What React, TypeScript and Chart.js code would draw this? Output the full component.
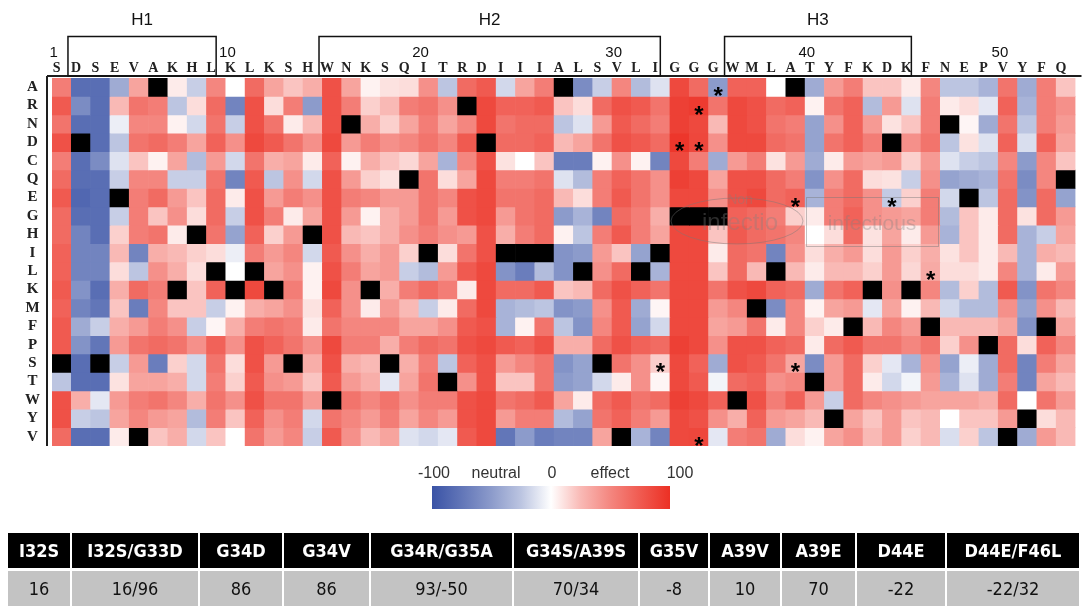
import React, { useEffect, useRef } from 'react';
import { Chart, registerables } from 'chart.js';

Chart.register(...registerables);

// ---------------- data ----------------
const sequence = ['S','D','S','E','V','A','K','H','L','K','L','K','S','H','W','N','K','S','Q','I','T','R','D','I','I','I','A','L','S','V','L','I','G','G','G','W','M','L','A','T','Y','F','K','D','K','F','N','E','P','V','Y','F','Q'];
const substitutions = ['A','R','N','D','C','Q','E','G','H','I','L','K','M','F','P','S','T','W','Y','V'];
const positionTicks = [1, 10, 20, 30, 40, 50];
const helixLabels = ['H1', 'H2', 'H3'];
const helixStart = [2, 15, 36];
const helixEnd = [9, 32, 45];

// effect per substitution (rows) at each sequence position (columns); null = wild type
const rowA = [55,-80,-80,-40,35,null,5,-20,50,0,65,35,20,30,80,35,3,8,10,45,-25,65,75,-15,35,55,null,-60,-20,50,-30,-10,85,65,-50,70,70,0,null,-40,40,55,20,20,5,50,-25,-25,-35,60,-40,55,20];
const rowR = [75,-60,-80,25,60,55,-25,10,65,-65,80,10,55,-50,80,55,15,25,55,60,45,null,85,70,70,75,20,10,65,80,75,60,90,93,60,85,80,65,70,3,60,70,-30,40,-10,55,5,10,-8,70,-35,55,45];
const rowN = [60,-80,-80,-5,50,50,3,-15,60,-20,80,60,5,25,80,null,30,15,35,55,35,50,85,60,65,65,-25,-10,40,75,65,55,90,85,25,85,80,60,55,-45,45,70,40,8,20,55,null,2,-40,60,-25,55,40];
const rowD = [80,null,-80,-25,60,65,55,35,70,45,85,75,60,45,85,40,55,45,50,60,50,75,null,65,65,70,25,35,60,80,75,65,96,86,45,85,85,65,60,-45,60,70,55,null,45,60,-25,8,-10,70,-12,70,35];
const rowC = [55,-80,-60,-10,20,3,35,-30,40,-15,60,30,35,5,70,3,30,20,12,35,-35,50,80,8,0,20,-70,-70,3,45,3,-65,85,55,-40,40,55,8,40,-40,5,40,35,40,15,40,-10,-20,-25,50,-50,50,20];
const rowQ = [65,-80,-80,-20,50,50,-20,-20,60,-65,75,-25,45,-15,80,40,15,8,null,60,10,35,85,55,55,60,-10,-30,55,70,60,45,90,85,35,80,80,65,55,-55,45,65,10,8,-20,45,-45,-40,-35,60,-60,50,null];
const rowE = [75,-85,-80,null,55,65,40,20,65,5,80,40,55,45,80,55,50,40,40,60,50,80,85,60,60,65,25,10,55,75,60,45,85,85,45,80,85,65,70,-35,55,65,45,-22,15,55,-15,null,-25,65,-55,65,-45];
const rowG = [65,-80,-80,-20,55,20,45,10,65,-20,80,55,5,35,80,40,3,30,40,60,40,80,85,40,60,65,-50,-35,-65,65,55,30,null,null,null,70,65,55,15,5,55,70,45,40,35,55,-30,20,5,65,8,65,40];
const rowH = [65,-65,-80,15,55,60,5,null,60,-45,70,15,40,null,80,25,20,30,45,55,45,40,80,30,55,65,3,-25,55,75,55,35,85,85,20,75,65,60,50,0,10,65,8,35,5,40,-35,20,5,65,-35,-20,35];
const rowI = [70,-65,-65,25,-65,30,25,15,10,-5,55,40,50,-15,75,45,30,40,15,null,10,60,80,null,null,null,-55,-50,40,20,-45,null,85,85,5,65,60,-65,45,10,30,40,10,40,15,30,8,20,5,25,-35,30,25];
const rowL = [70,-65,-65,10,-25,45,30,10,null,0,null,35,45,3,80,55,35,40,-20,-30,40,75,85,-55,-70,-30,-55,null,45,65,null,-35,85,85,20,65,25,null,25,5,25,25,15,40,12,32,10,10,5,50,-35,5,40];
const rowK = [75,-55,-80,30,65,55,null,20,70,null,85,null,55,3,85,45,null,30,55,65,55,5,85,65,65,75,20,25,65,80,70,60,85,85,60,80,85,70,65,-40,60,70,null,45,null,50,-30,15,-30,75,-55,60,50];
const rowM = [70,-65,-75,20,-70,50,20,20,-20,3,30,35,45,8,70,45,5,40,25,-20,5,65,85,-35,-30,-25,-55,-50,45,75,-40,2,85,85,40,50,null,-60,50,3,35,40,-8,35,3,25,-15,-30,-30,45,-45,45,25];
const rowF = [75,-40,-20,30,40,55,45,-20,2,30,55,60,55,5,60,50,50,50,35,35,45,75,80,-35,3,60,-25,-55,50,75,-45,-15,85,85,35,40,60,5,50,15,5,null,25,50,40,null,25,25,25,35,-55,null,35];
const rowP = [75,-55,-75,40,60,65,60,45,70,45,80,70,60,45,85,55,55,30,55,65,60,80,85,75,70,80,30,30,65,80,70,65,90,85,45,80,80,70,65,5,65,75,60,60,50,60,15,45,null,65,10,70,50];
const rowS = [null,-80,null,-20,40,-70,15,-15,60,10,80,40,null,30,80,30,25,null,30,55,-25,70,80,40,50,60,-55,-45,null,60,45,16,85,70,-40,80,75,60,34,-60,40,65,15,-8,-35,45,-45,-5,-40,65,-65,55,35];
const rowT = [-25,-80,-80,8,35,35,30,-15,55,15,75,45,40,20,75,40,30,-8,35,60,null,45,80,20,20,60,-50,-45,-15,5,45,2,85,75,-3,65,70,45,50,null,40,65,5,-15,-3,40,-35,-10,-40,55,-65,35,25];
const rowW = [80,30,-8,40,55,60,50,30,60,45,80,60,60,40,null,60,50,60,45,55,55,80,85,60,65,75,35,5,65,75,60,65,90,85,70,null,80,55,70,40,-20,65,50,45,40,35,35,35,30,65,0,60,40];
const rowY = [80,-20,-25,35,50,40,35,-30,55,20,70,45,55,-15,60,50,40,55,35,50,40,80,85,40,55,55,-30,-45,60,70,55,40,85,80,45,30,70,40,35,25,null,35,20,40,20,25,0,20,20,40,null,10,25];
const rowV = [65,-80,-80,5,null,20,30,-15,20,0,60,40,50,-20,75,45,25,35,-10,-15,-8,75,85,-75,-50,-70,-65,-65,35,null,-35,-65,85,86,-8,55,60,-40,10,3,35,45,25,40,15,25,-12,15,-25,null,-40,40,25];

const effects: Record<string, (number | null)[]> = {
  A: rowA, R: rowR, N: rowN, D: rowD, C: rowC, Q: rowQ, E: rowE, G: rowG, H: rowH, I: rowI,
  L: rowL, K: rowK, M: rowM, F: rowF, P: rowP, S: rowS, T: rowT, W: rowW, Y: rowY, V: rowV,
};

// tested mutants marked with an asterisk: [substitution, position]
const starredAA = ['A', 'R', 'D', 'D', 'E', 'E', 'L', 'S', 'S', 'V'];
const starredPos = [35, 34, 33, 34, 39, 44, 46, 32, 39, 34];

const colorbarLabels = ['-100', 'neutral', '0', 'effect', '100'];
const colorbarStops = [-100, -75, -50, -25, 0, 25, 50, 75, 100];

const mutantNames = ['I32S', 'I32S/G33D', 'G34D', 'G34V', 'G34R/G35A', 'G34S/A39S', 'G35V', 'A39V', 'A39E', 'D44E', 'D44E/F46L'];
const mutantScores = ['16', '16/96', '86', '86', '93/-50', '70/34', '-8', '10', '70', '-22', '-22/32'];

// ---------------- styling helpers ----------------
const NEG = [58, 83, 166];
const POS = [236, 48, 36];
function effectColor(v: number | null): string {
  if (v === null) return '#000000';
  const t = Math.pow(Math.min(1, Math.abs(v) / 100), 0.78);
  const e = v < 0 ? NEG : POS;
  const c = e.map((x) => Math.round(255 + (x - 255) * t));
  return `rgb(${c[0]},${c[1]},${c[2]})`;
}

const colWidths = [63, 128, 84, 87, 143, 126, 70, 72, 75, 90, 134];

const overlayPlugin = {
  id: 'overlay',
  afterDatasetsDraw(chart: any) {
    const { ctx, chartArea: a, scales } = chart;
    const x = scales.x;
    const y = scales.y;
    ctx.save();

    // axis frame lines
    ctx.strokeStyle = '#1e1e1e';
    ctx.lineWidth = 2;
    ctx.beginPath();
    ctx.moveTo(a.left - 5, a.top - 2);
    ctx.lineTo(a.left - 5, a.bottom);
    ctx.stroke();
    ctx.beginPath();
    ctx.moveTo(a.left - 5, a.top - 2);
    ctx.lineTo(a.right + 6, a.top - 2);
    ctx.stroke();

    // helix boxes + labels
    ctx.lineWidth = 1.5;
    ctx.strokeStyle = '#111';
    ctx.fillStyle = '#111';
    ctx.font = '17px "Liberation Sans", Arial, sans-serif';
    ctx.textAlign = 'center';
    ctx.textBaseline = 'middle';
    helixLabels.forEach((lab, i) => {
      const l = x.getPixelForValue(helixStart[i] - 1) - 13;
      const r = x.getPixelForValue(helixEnd[i] - 1);
      ctx.strokeRect(l, 36.5, r - l, a.top - 2 - 36.5);
      ctx.fillText(lab, (l + r) / 2, 20);
    });

    // residue numbers
    ctx.font = '15px "Liberation Sans", Arial, sans-serif';
    positionTicks.forEach((p) => {
      ctx.fillText(String(p), x.getPixelForValue(p - 1) - 8, 53);
    });

    // asterisks
    ctx.font = 'bold 24px "Liberation Sans", Arial, sans-serif';
    ctx.textBaseline = 'alphabetic';
    ctx.fillStyle = '#000';
    starredAA.forEach((aa, i) => {
      const cx = x.getPixelForValue(starredPos[i] - 1);
      const cy = y.getPixelForValue(substitutions.indexOf(aa) + 0.5);
      ctx.fillText('*', cx, cy + 17);
    });

    // faint annotation overlay (as in the scanned figure)
    ctx.strokeStyle = 'rgba(120,120,120,0.45)';
    ctx.lineWidth = 1;
    ctx.beginPath();
    ctx.ellipse(737, 221, 66, 23, 0, 0, Math.PI * 2);
    ctx.stroke();
    ctx.strokeRect(806.5, 197.5, 132, 49);
    ctx.fillStyle = 'rgba(130,130,130,0.35)';
    ctx.textBaseline = 'middle';
    ctx.font = '14px "Liberation Sans", Arial, sans-serif';
    ctx.fillText('Non', 740, 200);
    ctx.font = '24px "Liberation Sans", Arial, sans-serif';
    ctx.fillText('infectio', 740, 223);
    ctx.font = '21px "Liberation Sans", Arial, sans-serif';
    ctx.fillText('infectious', 872, 224);

    // colour bar legend
    const bx = 432, bw = 238, by = 486, bh = 23;
    const g = ctx.createLinearGradient(bx, 0, bx + bw, 0);
    colorbarStops.forEach((s) => g.addColorStop((s + 100) / 200, effectColor(s)));
    ctx.fillStyle = g;
    ctx.fillRect(bx, by, bw, bh);
    ctx.fillStyle = '#333';
    ctx.font = '16px "Liberation Sans", Arial, sans-serif';
    ctx.textBaseline = 'middle';
    const labelX = [434, 496, 552, 610, 680];
    colorbarLabels.forEach((t, i) => ctx.fillText(t, labelX[i], 474));

    ctx.restore();
  },
};

export default function App() {
  const ref = useRef<HTMLCanvasElement | null>(null);

  useEffect(() => {
    if (!ref.current) return;
    const chart = new Chart(ref.current, {
      type: 'bar',
      data: {
        labels: sequence,
        datasets: substitutions.map((aa, r) => ({
          label: aa,
          data: sequence.map(() => [r, r + 1]) as any,
          backgroundColor: sequence.map((wt, j) => (wt === aa ? '#000000' : effectColor(effects[aa][j]))),
          borderWidth: 0,
          grouped: false,
          barPercentage: 1,
          categoryPercentage: 1,
        })) as any,
      },
      options: {
        animation: false,
        responsive: false,
        devicePixelRatio: 1,
        layout: { padding: { left: 0, right: 12.5, top: 0, bottom: 161 } },
        plugins: { legend: { display: false }, tooltip: { enabled: false } },
        scales: {
          x: {
            type: 'category',
            position: 'top',
            offset: true,
            grid: { display: false, drawTicks: false },
            border: { display: false },
            ticks: {
              autoSkip: false,
              maxRotation: 0,
              padding: 1,
              labelOffset: -5,
              color: '#222',
              font: { family: '"Liberation Serif", "Times New Roman", serif', size: 14, weight: 'bold' },
            },
            afterFit: (s: any) => { s.height = 78; },
          },
          y: {
            type: 'linear',
            min: 0,
            max: substitutions.length,
            reverse: true,
            grid: { display: false, drawTicks: false },
            border: { display: false },
            afterBuildTicks: (s: any) => { s.ticks = substitutions.map((_, i) => ({ value: i + 0.5 })); },
            ticks: {
              autoSkip: false,
              padding: 12,
              crossAlign: 'center',
              color: '#222',
              font: { family: '"Liberation Serif", "Times New Roman", serif', size: 15, weight: 'bold' },
              callback: (v: any) => substitutions[Math.floor(Number(v))],
            },
            afterFit: (s: any) => { s.width = 52; },
          },
        },
      } as any,
      plugins: [overlayPlugin],
    });
    return () => chart.destroy();
  }, []);

  const cellFont = '"Liberation Sans Narrow", "DejaVu Sans Condensed", "Roboto Condensed", sans-serif';
  const head: React.CSSProperties = {
    background: '#000', color: '#fff', fontWeight: 'bold', fontSize: 18, fontFamily: cellFont,
    height: 35, textAlign: 'center', padding: 0, borderRight: '2px solid #fff', borderBottom: '3px solid #fff',
  };
  const body: React.CSSProperties = {
    background: '#c3c3c3', color: '#111', fontSize: 18, fontFamily: cellFont,
    height: 35, textAlign: 'center', padding: 0, borderRight: '2px solid #fff',
  };

  return (
    <div style={{ position: 'relative', width: 1088, height: 607, background: '#fff', overflow: 'hidden' }}>
      <style>{'body{margin:0}'}</style>
      <canvas ref={ref} width={1088} height={607} style={{ position: 'absolute', left: 0, top: 0, width: 1088, height: 607 }} />
      <table style={{ position: 'absolute', left: 8, top: 533, width: 1072, borderCollapse: 'collapse', tableLayout: 'fixed' }}>
        <colgroup>
          {colWidths.map((w, i) => <col key={i} style={{ width: w }} />)}
        </colgroup>
        <tbody>
          <tr>{mutantNames.map((m) => <td key={m} style={head}>{m}</td>)}</tr>
          <tr>{mutantScores.map((s, i) => <td key={i} style={body}>{s}</td>)}</tr>
        </tbody>
      </table>
    </div>
  );
}
